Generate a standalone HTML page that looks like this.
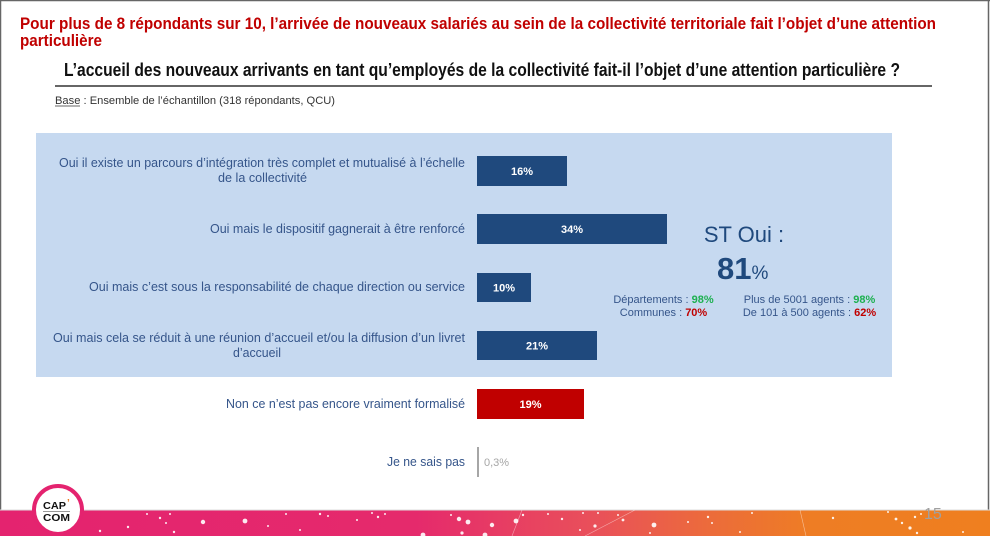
<!DOCTYPE html>
<html>
<head>
<meta charset="utf-8">
<style>
html,body{margin:0;padding:0;background:#fff;}
svg{display:block;}
text{font-family:"Liberation Sans","DejaVu Sans",sans-serif;}
</style>
</head>
<body>
<svg width="990" height="536" viewBox="0 0 990 536" xmlns="http://www.w3.org/2000/svg">
  <defs>
    <linearGradient id="band" x1="0" y1="0" x2="1" y2="0">
      <stop offset="0" stop-color="#E4236F"/>
      <stop offset="0.42" stop-color="#E52A6C"/>
      <stop offset="0.6" stop-color="#E9505A"/>
      <stop offset="0.72" stop-color="#EC6C3A"/>
      <stop offset="0.82" stop-color="#EE7D24"/>
      <stop offset="1" stop-color="#EF7F1F"/>
    </linearGradient>
  </defs>

  <rect x="0" y="0" width="990" height="536" fill="#fff"/>

  <!-- outer frame -->
  <line x1="0.5" y1="0" x2="0.5" y2="511" stroke="#666" stroke-width="1.5"/>
  <line x1="0" y1="0.5" x2="990" y2="0.5" stroke="#666" stroke-width="1.5"/>
  <line x1="988.5" y1="0" x2="988.5" y2="511" stroke="#666" stroke-width="1.5"/>

  <!-- red headline -->
  <text x="20" y="29" font-size="16.5" font-weight="bold" fill="#C00000" textLength="916" lengthAdjust="spacingAndGlyphs">Pour plus de 8 répondants sur 10, l’arrivée de nouveaux salariés au sein de la collectivité territoriale fait l’objet d’une attention</text>
  <text x="20" y="46" font-size="16.5" font-weight="bold" fill="#C00000" textLength="82" lengthAdjust="spacingAndGlyphs">particulière</text>

  <!-- question -->
  <text x="64" y="76" font-size="18" font-weight="bold" fill="#111" textLength="836" lengthAdjust="spacingAndGlyphs">L’accueil des nouveaux arrivants en tant qu’employés de la collectivité fait-il l’objet d’une attention particulière ?</text>
  <line x1="55" y1="86" x2="932" y2="86" stroke="#333" stroke-width="1.5"/>

  <!-- base -->
  <text x="55" y="104" font-size="11" fill="#333" textLength="280" lengthAdjust="spacingAndGlyphs">Base : Ensemble de l’échantillon (318 répondants, QCU)</text>
  <line x1="55" y1="106" x2="80" y2="106" stroke="#333" stroke-width="0.8"/>

  <!-- highlight panel -->
  <rect x="36" y="133" width="856" height="244" fill="#C6D9F0"/>

  <!-- labels -->
  <g font-size="12.5" fill="#35558A">
    <text x="59" y="167" textLength="406" lengthAdjust="spacingAndGlyphs">Oui il existe un parcours d’intégration très complet et mutualisé à l’échelle</text>
    <text x="218" y="182" textLength="89" lengthAdjust="spacingAndGlyphs">de la collectivité</text>
    <text x="210" y="233" textLength="255" lengthAdjust="spacingAndGlyphs">Oui mais le dispositif gagnerait à être renforcé</text>
    <text x="89" y="291" textLength="376" lengthAdjust="spacingAndGlyphs">Oui mais c’est sous la responsabilité de chaque direction ou service</text>
    <text x="53" y="342" textLength="412" lengthAdjust="spacingAndGlyphs">Oui mais cela se réduit à une réunion d’accueil et/ou la diffusion d’un livret</text>
    <text x="233" y="357" textLength="48" lengthAdjust="spacingAndGlyphs">d’accueil</text>
    <text x="226" y="408" textLength="239" lengthAdjust="spacingAndGlyphs">Non ce n’est pas encore vraiment formalisé</text>
    <text x="387" y="466" textLength="78" lengthAdjust="spacingAndGlyphs">Je ne sais pas</text>
  </g>

  <!-- bars -->
  <rect x="477" y="156" width="90" height="30" fill="#1F497D"/>
  <rect x="477" y="214" width="190" height="30" fill="#1F497D"/>
  <rect x="477" y="273" width="54" height="29" fill="#1F497D"/>
  <rect x="477" y="331" width="120" height="29" fill="#1F497D"/>
  <rect x="477" y="389" width="107" height="30" fill="#C00000"/>
  <rect x="477" y="447" width="2" height="30" fill="#A6A6A6"/>

  <g font-size="11" font-weight="bold" fill="#fff" text-anchor="middle">
    <text x="522" y="175">16%</text>
    <text x="572" y="233">34%</text>
    <text x="504" y="291.5">10%</text>
    <text x="537" y="349.5">21%</text>
    <text x="530.5" y="408">19%</text>
  </g>
  <text x="484" y="466" font-size="11" fill="#A6A6A6">0,3%</text>

  <!-- ST Oui -->
  <text x="744" y="242" font-size="22" fill="#1F497D" text-anchor="middle">ST Oui :</text>
  <text x="717" y="279" font-size="31" font-weight="bold" fill="#1F497D">81<tspan font-size="19" font-weight="normal">%</tspan></text>

  <g font-size="11" fill="#35558A" text-anchor="middle">
    <text x="663.5" y="303">Départements : <tspan fill="#1DB050" font-weight="bold">98%</tspan></text>
    <text x="663.5" y="316">Communes : <tspan fill="#C00000" font-weight="bold">70%</tspan></text>
    <text x="809.5" y="303">Plus de 5001 agents : <tspan fill="#1DB050" font-weight="bold">98%</tspan></text>
    <text x="809.5" y="316">De 101 à 500 agents : <tspan fill="#C00000" font-weight="bold">62%</tspan></text>
  </g>

  <!-- footer band -->
  <rect x="0" y="510" width="990" height="26" fill="url(#band)"/>
  <line x1="0" y1="510" x2="990" y2="510" stroke="#ddd" stroke-width="1"/>
  <g fill="#fff" opacity="0.9">
    <circle cx="100" cy="531" r="1.2"/><circle cx="128" cy="527" r="1.2"/><circle cx="147" cy="514" r="1"/>
    <circle cx="160" cy="518" r="1.2"/><circle cx="166" cy="523" r="1"/><circle cx="170" cy="514" r="1"/>
    <circle cx="174" cy="532" r="1.2"/><circle cx="203" cy="522" r="2.2"/><circle cx="245" cy="521" r="2.4"/>
    <circle cx="286" cy="514" r="1"/><circle cx="300" cy="530" r="1"/><circle cx="320" cy="514" r="1.2"/>
    <circle cx="328" cy="516" r="1"/><circle cx="357" cy="520" r="1"/><circle cx="372" cy="513" r="1"/>
    <circle cx="378" cy="517" r="1.2"/><circle cx="385" cy="514" r="1"/><circle cx="423" cy="535" r="2.4"/>
    <circle cx="451" cy="515" r="1"/><circle cx="459" cy="519" r="2.2"/><circle cx="468" cy="522" r="2.4"/>
    <circle cx="462" cy="533" r="1.6"/><circle cx="485" cy="535" r="2.4"/><circle cx="492" cy="525" r="2.2"/>
    <circle cx="516" cy="521" r="2.4"/><circle cx="523" cy="515" r="1.2"/><circle cx="548" cy="514" r="1"/>
    <circle cx="562" cy="519" r="1.2"/><circle cx="583" cy="513" r="1"/><circle cx="595" cy="526" r="1.6"/>
    <circle cx="618" cy="515" r="1"/><circle cx="623" cy="520" r="1.4"/><circle cx="654" cy="525" r="2.4"/>
    <circle cx="688" cy="522" r="1"/><circle cx="708" cy="517" r="1.2"/><circle cx="712" cy="523" r="1"/>
    <circle cx="740" cy="532" r="1"/><circle cx="752" cy="513" r="1"/><circle cx="833" cy="518" r="1.2"/>
    <circle cx="888" cy="512" r="1"/><circle cx="896" cy="519" r="1.4"/><circle cx="902" cy="523" r="1.2"/>
    <circle cx="910" cy="528" r="1.6"/><circle cx="915" cy="517" r="1.2"/><circle cx="921" cy="514" r="1"/>
    <circle cx="917" cy="533" r="1.2"/><circle cx="963" cy="532" r="1"/><circle cx="268" cy="526" r="1"/>
    <circle cx="580" cy="530" r="1"/><circle cx="598" cy="513" r="1"/><circle cx="650" cy="533" r="1"/>
  </g>
  <g stroke="#fff" stroke-width="0.6" opacity="0.5">
    <line x1="512" y1="536" x2="522" y2="510"/>
    <line x1="585" y1="536" x2="635" y2="510"/>
    <line x1="800" y1="510" x2="806" y2="536"/>
  </g>

  <!-- page number -->
  <text x="924" y="519" font-size="16" fill="#A0A0A0">15</text>

  <!-- logo -->
  <circle cx="58" cy="510" r="24" fill="#fff" stroke="#E4236F" stroke-width="4"/>
  <text x="43" y="509" font-size="10" font-weight="bold" fill="#111" textLength="23" lengthAdjust="spacingAndGlyphs">CAP</text>
  <text x="67" y="506" font-size="10" font-weight="bold" fill="#EE7D22">’</text>
  <line x1="43" y1="511.5" x2="70" y2="511.5" stroke="#999" stroke-width="1"/>
  <text x="43" y="521" font-size="10" font-weight="bold" fill="#111" textLength="27" lengthAdjust="spacingAndGlyphs">COM</text>
</svg>
</body>
</html>
